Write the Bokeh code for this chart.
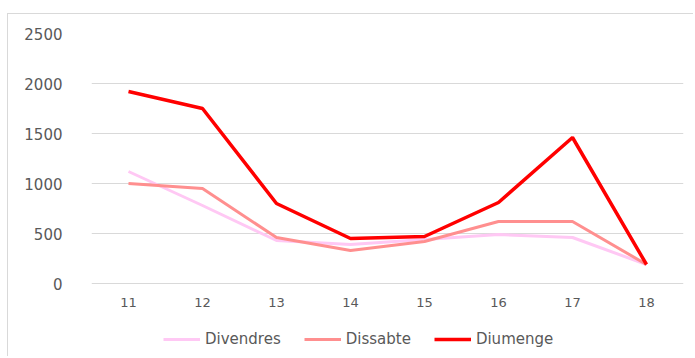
from bokeh.plotting import figure
from bokeh.models import ColumnDataSource, Legend, LegendItem, FixedTicker
from bokeh.core.properties import value
from bokeh.embed import file_html
from bokeh.resources import INLINE

categories = ["11", "12", "13", "14", "15", "16", "17", "18"]
divendres = [1120, 780, 430, 390, 440, 490, 460, 190]
dissabte = [1000, 950, 460, 330, 420, 620, 620, 190]
diumenge = [1920, 1750, 800, 450, 470, 810, 1460, 190]
y_ticks = [0, 500, 1000, 1500, 2000, 2500]

FONT = "DejaVu Sans"
TXT = "#595959"

# frame extended below zero to hold the category labels and legend
p = figure(x_range=categories, y_range=(-740, 2500), width=686, height=343,
           output_backend="svg", toolbar_location=None,
           min_border_left=83, min_border_right=11, min_border_top=19, min_border_bottom=0,
           margin=(13, 0, 0, 7))
p.styles = {"border-left": "1px solid #d9d9d9", "border-top": "1px solid #d9d9d9"}
p.outline_line_color = None

src = ColumnDataSource(dict(x=categories, a=divendres, b=dissabte, c=diumenge,
                            lab_y=[-190] * len(categories)))
r1 = p.line("x", "a", source=src, line_color="#FFC8F4", line_width=3)
r2 = p.line("x", "b", source=src, line_color="#FF8F8F", line_width=3)
r3 = p.line("x", "c", source=src, line_color="#FF0000", line_width=3.5)

# category labels
p.text("x", "lab_y", text="x", source=src, text_align="center", text_baseline="middle",
       text_font=value(FONT), text_font_size="13px", text_color=TXT)

p.xaxis.visible = False
p.xgrid.grid_line_color = None
p.ygrid.grid_line_color = "#d9d9d9"
p.ygrid.grid_line_width = 1
p.yaxis.ticker = FixedTicker(ticks=y_ticks)
p.yaxis.axis_line_color = None
p.yaxis.major_tick_line_color = None
p.yaxis.minor_tick_line_color = None
p.yaxis.major_label_text_color = TXT
p.yaxis.major_label_text_font = FONT
p.yaxis.major_label_text_font_size = "15px"
p.yaxis.major_label_standoff = 23

legend = Legend(items=[LegendItem(label="Divendres", renderers=[r1]),
                       LegendItem(label="Dissabte", renderers=[r2]),
                       LegendItem(label="Diumenge", renderers=[r3])],
                orientation="horizontal", location=(72, 9),
                glyph_width=37, glyph_height=16, label_standoff=5, spacing=23,
                padding=0, margin=0, border_line_color=None,
                background_fill_alpha=0,
                label_text_font=FONT, label_text_font_size="15px",
                label_text_color=TXT)
p.add_layout(legend, "center")

open("out.html", "w").write(file_html(p, INLINE))
